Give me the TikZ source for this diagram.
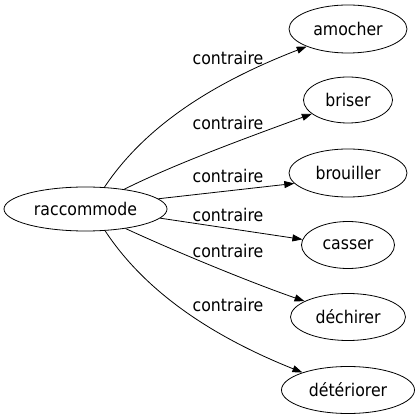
\documentclass[tikz,border=0pt]{standalone}
\usepackage{fontspec}
\setmainfont{DejaVu Sans Condensed}
\usetikzlibrary{arrows.meta,shapes.geometric}
\begin{document}
\begin{tikzpicture}[x=1pt,y=-1pt,
  word/.style={draw=black,line width=0.8pt,ellipse,inner sep=0pt,font=\fontsize{17.5}{20}\selectfont},
  rel/.style={font=\fontsize{17.5}{20}\selectfont,inner sep=0pt},
  edge/.style={draw=black,line width=0.8pt,-{Triangle[length=10pt,width=7pt]}}]
\useasboundingbox (0,0) rectangle (420,419);
\node[word,minimum width=163pt,minimum height=44pt] (rac) at (85.5,209) {raccommode};
\node[word,minimum width=118pt,minimum height=48pt] (amo) at (348,29) {amocher};
\node[word,minimum width=89pt,minimum height=46pt] (bri) at (348,100) {briser};
\node[word,minimum width=118pt,minimum height=48pt] (bro) at (348,173) {brouiller};
\node[word,minimum width=93pt,minimum height=47pt] (cas) at (348,245) {casser};
\node[word,minimum width=115pt,minimum height=47pt] (dec) at (348,317) {déchirer};
\node[word,minimum width=133pt,minimum height=47pt] (det) at (348,390) {détériorer};
\node[rel] (l1) at (228,57.5) {contraire};
\node[rel] (l2) at (228,122.5) {contraire};
\node[rel] (l3) at (228,175.5) {contraire};
\node[rel] (l4) at (228,215) {contraire};
\node[rel] (l5) at (228,250.5) {contraire};
\node[rel] (l6) at (228,304.5) {contraire};
\draw[edge] (rac.49) .. controls +(44,-66) and +(-85,33) .. (amo.203);
\draw[edge] (rac.27) .. controls +(52,-26) and +(-60,22) .. (bri.201);
\draw[edge] (rac.8) -- (bro.191);
\draw[edge] (rac.-7) -- (cas.173);
\draw[edge] (rac.-26) .. controls +(52,24) and +(-52,-18) .. (dec.160);
\draw[edge] (rac.-48) .. controls +(44,67) and +(-80,-32) .. (det.159);
\end{tikzpicture}
\end{document}
